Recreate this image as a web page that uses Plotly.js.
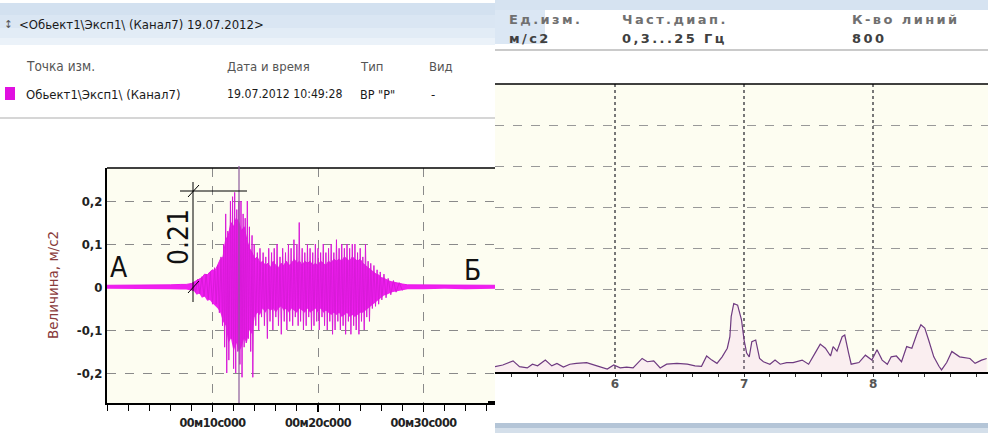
<!DOCTYPE html>
<html><head><meta charset="utf-8">
<script src="https://cdn.plot.ly/plotly-3.0.1.min.js"></script>
<style>html,body{margin:0;padding:0;background:#fff}#c{width:988px;height:440px}</style>
</head><body><div id="c"></div>
<script>
// ---- waveform (left): dense core envelope, seconds / m/s2
const coreT  = [0,1,2,3,4,5,6,7,7.5,8,8.25,8.5,8.75,9,9.25,9.5,9.75,10,10.25,10.5,10.75,11,11.25,11.5,11.75,12,12.25,12.5,12.75,13,13.25,13.5,13.75,14,14.25,14.5,14.75,15,15.25,15.5,15.75,16,16.25,16.5,16.75,17,17.25,17.5,17.75,18,18.25,18.5,18.75,19,19.25,19.5,19.75,20,20.25,20.5,20.75,21,21.25,21.5,21.75,22,22.25,22.5,22.75,23,23.25,23.5,23.75,24,24.25,24.5,24.75,25,25.25,25.5,25.75,26,26.25,26.5,26.75,27,27.5,28,28.5,30,32,34,36,37];
const coreHi = [0.004,0.004,0.005,0.004,0.005,0.004,0.005,0.006,0.006,0.008,0.012,0.015,0.02,0.022,0.03,0.028,0.035,0.04,0.038,0.05,0.065,0.07,0.11,0.12,0.15,0.14,0.16,0.15,0.13,0.14,0.11,0.09,0.08,0.065,0.07,0.055,0.06,0.05,0.055,0.045,0.06,0.05,0.045,0.055,0.05,0.06,0.05,0.055,0.065,0.055,0.06,0.05,0.06,0.055,0.06,0.05,0.055,0.05,0.06,0.055,0.05,0.06,0.055,0.065,0.06,0.065,0.06,0.07,0.065,0.06,0.07,0.065,0.06,0.065,0.055,0.05,0.045,0.04,0.035,0.03,0.028,0.022,0.02,0.016,0.014,0.012,0.009,0.007,0.005,0.005,0.004,0.005,0.004,0.004];
const coreLo = [-0.004,-0.004,-0.005,-0.004,-0.005,-0.004,-0.005,-0.006,-0.006,-0.008,-0.01,-0.018,-0.015,-0.025,-0.022,-0.032,-0.03,-0.038,-0.045,-0.05,-0.06,-0.08,-0.09,-0.13,-0.12,-0.15,-0.13,-0.15,-0.14,-0.12,-0.13,-0.1,-0.11,-0.07,-0.06,-0.065,-0.05,-0.06,-0.05,-0.055,-0.05,-0.06,-0.05,-0.045,-0.055,-0.05,-0.06,-0.05,-0.055,-0.06,-0.05,-0.055,-0.06,-0.05,-0.06,-0.055,-0.05,-0.06,-0.05,-0.06,-0.055,-0.06,-0.065,-0.06,-0.065,-0.06,-0.07,-0.065,-0.06,-0.07,-0.065,-0.07,-0.065,-0.06,-0.06,-0.055,-0.05,-0.045,-0.04,-0.035,-0.03,-0.025,-0.02,-0.018,-0.015,-0.012,-0.01,-0.007,-0.005,-0.005,-0.004,-0.005,-0.004,-0.004];
// ---- waveform spikes (individual peaks)
const spikeT = [8.2,8.4,8.6,8.8,9.0,9.2,9.4,9.6,9.8,10.0,10.2,10.35,10.5,10.65,10.8,10.95,11.05,11.15,11.25,11.35,11.45,11.55,11.7,11.8,11.9,12.0,12.1,12.2,12.3,12.4,12.5,12.6,12.7,12.8,12.9,13.0,13.1,13.2,13.3,13.4,13.5,13.62,13.75,13.82,13.95,14.1,14.25,14.38,14.5,14.65,14.8,14.92,15.05,15.2,15.33,15.45,15.6,15.72,15.85,16.0,16.12,16.25,16.4,16.52,16.65,16.8,16.92,17.05,17.2,17.32,17.45,17.6,17.72,17.85,18.0,18.12,18.22,18.35,18.5,18.62,18.75,18.88,19.0,19.12,19.25,19.38,19.5,19.62,19.75,19.88,20.0,20.12,20.25,20.38,20.5,20.62,20.75,20.88,21.0,21.12,21.25,21.38,21.5,21.62,21.75,21.88,22.0,22.12,22.25,22.38,22.5,22.62,22.75,22.88,23.0,23.12,23.25,23.38,23.5,23.62,23.75,23.88,24.0,24.12,24.25,24.38,24.5,24.62,24.75,24.88,25.0,25.15,25.3,25.45,25.6,25.75,25.9,26.05,26.25,26.45,26.65,26.9,27.15,27.4,27.7,28.0];
const spikeV = [0.01,-0.012,0.018,-0.016,0.024,-0.022,0.03,-0.028,0.035,-0.04,0.045,-0.04,0.05,-0.06,0.07,-0.09,0.1,-0.14,0.17,-0.2,0.13,-0.17,0.2,-0.12,0.21,-0.19,0.22,-0.2,0.18,-0.15,0.2,-0.18,0.2,-0.21,0.17,-0.14,0.16,-0.13,0.2,-0.12,0.14,-0.15,0.12,-0.21,0.1,-0.09,0.08,-0.1,0.09,-0.07,0.08,-0.09,0.07,-0.12,0.09,-0.08,0.08,-0.1,0.09,-0.07,0.1,-0.09,0.07,-0.11,0.09,-0.08,0.08,-0.1,0.1,-0.08,0.09,-0.09,0.11,-0.07,0.1,-0.09,0.15,-0.08,0.09,-0.1,0.08,-0.09,0.1,-0.07,0.09,-0.1,0.08,-0.09,0.1,-0.08,0.09,-0.1,0.08,-0.07,0.1,-0.09,0.08,-0.1,0.09,-0.08,0.1,-0.11,0.08,-0.1,0.11,-0.08,0.09,-0.1,0.1,-0.09,0.09,-0.11,0.1,-0.08,0.09,-0.11,0.1,-0.09,0.1,-0.1,0.08,-0.11,0.09,-0.08,0.07,-0.1,0.1,-0.07,0.06,-0.08,0.055,-0.05,0.05,-0.045,0.04,-0.04,0.035,-0.03,0.03,-0.025,0.02,-0.018,0.015,-0.012,0.01,-0.008];
const yTickVals = [-0.2,-0.1,0,0.1,0.2];
const yTickText = ['-0,2','-0,1','0','0,1','0,2'];
const xTickVals = [10,20,30];
const xTickText = ['00м10с000','00м20с000','00м30с000'];
// ---- spectrum (right): frequency Hz / amplitude (grid units)
const specF = [5.07,5.13,5.21,5.26,5.32,5.36,5.40,5.46,5.51,5.55,5.60,5.65,5.70,5.78,5.86,5.94,5.99,6.04,6.09,6.14,6.21,6.25,6.30,6.35,6.40,6.48,6.56,6.62,6.67,6.71,6.75,6.79,6.83,6.87,6.89,6.90,6.92,6.95,6.96,6.98,7.00,7.02,7.04,7.06,7.09,7.10,7.12,7.15,7.20,7.24,7.28,7.33,7.38,7.45,7.50,7.55,7.59,7.63,7.67,7.69,7.72,7.76,7.78,7.81,7.83,7.89,7.94,7.99,8.03,8.07,8.11,8.14,8.18,8.22,8.26,8.30,8.34,8.37,8.40,8.43,8.47,8.51,8.53,8.57,8.61,8.67,8.75,8.79,8.84,8.88];
const specV = [0.13,0.17,0.27,0.13,0.10,0.19,0.15,0.29,0.15,0.21,0.12,0.19,0.21,0.23,0.15,0.07,0.17,0.10,0.12,0.10,0.33,0.25,0.27,0.10,0.19,0.21,0.19,0.15,0.14,0.39,0.29,0.21,0.37,0.58,0.86,1.35,1.67,1.63,1.51,1.27,0.78,0.46,0.37,0.74,0.78,0.62,0.33,0.25,0.19,0.29,0.19,0.23,0.23,0.29,0.19,0.46,0.68,0.58,0.39,0.62,0.51,0.86,0.90,0.46,0.19,0.23,0.41,0.29,0.54,0.29,0.19,0.37,0.39,0.25,0.62,0.58,0.94,1.15,1.07,0.78,0.37,0.14,0.05,0.23,0.50,0.37,0.33,0.21,0.29,0.33];
const specTickVals = [6,7,8];
const specTickText = ['6','7','8'];

// ---- helpers (pixel -> paper)
const W=988,H=440;
const px=x=>x/W, py=y=>1-y/H;
const NARROW='"Liberation Sans Narrow","DejaVu Sans Condensed","Roboto Condensed","Arial Narrow",sans-serif';
const VERD='"DejaVu Sans",Verdana,sans-serif';
function T(x,y,text,size,color,extra){
  return Object.assign({xref:'paper',yref:'paper',x:px(x),y:py(y),text:text,showarrow:false,
    xanchor:'left',yanchor:'middle',font:{family:NARROW,size:size,color:color}},extra||{});
}
function wide(s){return '<span style="letter-spacing:2.4px">'+s+'</span>';}
function tight(s){return '<span style="letter-spacing:-0.5px">'+s+'</span>';}
function rect(x0,y0,x1,y1,fill){return {type:'rect',xref:'paper',yref:'paper',x0:px(x0),x1:px(x1),y0:py(y0),y1:py(y1),fillcolor:fill,line:{width:0},layer:'below'};}
function seg(x0,y0,x1,y1,color,w){return {type:'line',xref:'paper',yref:'paper',x0:px(x0),x1:px(x1),y0:py(y0),y1:py(y1),line:{color:color,width:w}};}

const traces = [
  {x:coreT,y:coreLo,type:'scatter',mode:'lines',line:{width:0,color:'#f01ef0'},xaxis:'x',yaxis:'y',hoverinfo:'skip'},
  {x:coreT,y:coreHi,type:'scatter',mode:'lines',fill:'tonexty',fillcolor:'#f01ef0',line:{width:1,color:'#e81ae8'},xaxis:'x',yaxis:'y',hoverinfo:'skip'},
  {x:spikeT,y:spikeV,type:'scatter',mode:'lines',line:{width:1,color:'#d81ad8'},xaxis:'x',yaxis:'y'},
  {x:specF,y:specV,type:'scatter',mode:'lines',fill:'tozeroy',fillcolor:'rgba(235,160,235,0.16)',line:{width:1.2,color:'#6e3a80'},xaxis:'x2',yaxis:'y2'}
];

const hdrL = {family:VERD,size:13,color:'#707070',weight:'bold'};
const hdrV = {family:VERD,size:13,color:'#404040',weight:'bold'};

const shapes = [
  rect(0,3,495,15,'#d3e1f0'), rect(0,15,495,28,'#dae6f3'), rect(0,28,495,38,'#e2ecf6'), rect(0,38,495,45,'#ebf2f9'),
  rect(495,0,988,10,'#d6e3f1'), rect(495,10,545,44,'#dbe7f4'),
  seg(0,118,495,118,'#c8c8c8',1.5),
  seg(495,50,988,50,'#b8b8b8',1.5),
  rect(495,423,988,428,'#b4c5d7'), rect(495,428,988,433,'#d4dfea'),
  seg(488,402,495,402,'#000',2),
  rect(5,87,15,100,'#e010e0'),
  seg(107,168,495,168,'#000',1.5),
  seg(495,84,988,84,'#000',1.5),
  seg(239,166,239,403,'#8c5c9c',1.2),
  seg(193,182,193,302,'#000',1),
  seg(180,191,247,191,'#000',1),
  seg(188,197,199,185,'#000',1),
  seg(188,293,199,281,'#000',1)
];

const annotations = [
  T(2,25,'↕',11,'#555'),
  T(17,25,'&lt;Обьект1\\Эксп1\\ (Канал7) 19.07.2012&gt;',13,'#1a1a1a'),
  T(24,66,'Точка изм.',13.5,'#555'),
  T(225,66,'Дата и время',13,'#555'),
  T(358,66,'Тип',13,'#555'),
  T(427,66,'Вид',13,'#555'),
  T(24,94,'Обьект1\\Эксп1\\ (Канал7)',13,'#1a1a1a'),
  T(225,94,'19.07.2012 10:49:28',12.2,'#1a1a1a'),
  T(358,94,'ВР "Р"',12.5,'#1a1a1a'),
  T(429,94,'-',13,'#1a1a1a'),
  T(507,19,wide('Ед.изм.'),13,'#707070',{font:hdrL}),
  T(507,38,wide('м/с2'),13,'#404040',{font:hdrV}),
  T(620,19,wide('Част.диап.'),13,'#707070',{font:hdrL}),
  T(620,38,wide('0,3...25 Гц'),13,'#404040',{font:hdrV}),
  T(850,19,wide('К-во линий'),13,'#707070',{font:hdrL}),
  T(850,38,wide('800'),13,'#404040',{font:hdrV}),
  T(53,285,'Величина, м/с2',14,'#8a3b3b',{textangle:-90,xanchor:'center',font:{family:VERD,size:13.5,color:'#8a3b3b'}}),
  T(119,267,'А',28,'#111',{xanchor:'center'}),
  T(472,270,'Б',28,'#111',{xanchor:'center'}),
  T(178,237,'0.21',28,'#111',{xanchor:'center',textangle:-90})
];

const layout = {
  width:988,height:440,margin:{l:0,r:0,t:0,b:0},
  paper_bgcolor:'#ffffff',plot_bgcolor:'#fdfdf1',showlegend:false,
  xaxis:{domain:[px(107),px(495)],range:[0,(495-107)/10.55],anchor:'y',
    tickvals:xTickVals,ticktext:xTickText.map(tight),ticks:'outside',ticklen:7,tickwidth:1.2,tickcolor:'#000',
    showline:true,linewidth:2,linecolor:'#000',showgrid:true,gridcolor:'#8a8a8a',griddash:'dash',gridwidth:1,
    zeroline:false,tickfont:{family:NARROW,size:12.5,color:'#222',weight:'bold'},
    minor:{dtick:2,ticks:'outside',ticklen:6,tickcolor:'#000',tickwidth:1,showgrid:false}},
  yaxis:{domain:[py(403),py(168)],range:[(287-403)/430,(287-168)/430],anchor:'x',
    tickvals:yTickVals,ticktext:yTickText,ticks:'',showline:true,linewidth:2,linecolor:'#000',
    showgrid:true,gridcolor:'#8a8a8a',griddash:'dash',gridwidth:1,zeroline:false,
    tickfont:{family:NARROW,size:13,color:'#222',weight:'bold'}},
  xaxis2:{domain:[px(495),1],range:[5.07,8.89],anchor:'y2',
    tickvals:specTickVals,ticktext:specTickText,ticks:'',showline:true,linewidth:2,linecolor:'#000',
    showgrid:true,gridcolor:'#777',griddash:'dot',gridwidth:1.3,zeroline:false,
    tickfont:{family:VERD,size:12,color:'#555',weight:'bold'},
    minor:{dtick:0.2,ticks:'outside',ticklen:3,tickcolor:'#333',showgrid:false}},
  yaxis2:{domain:[py(372),py(84)],range:[0,7.02],anchor:'x2',dtick:1,showticklabels:false,ticks:'',
    showline:false,showgrid:true,gridcolor:'#999',griddash:'dash',gridwidth:1,zeroline:false},
  shapes:shapes,annotations:annotations
};
Plotly.newPlot('c',traces,layout,{displayModeBar:false,staticPlot:true});
</script></body></html>
